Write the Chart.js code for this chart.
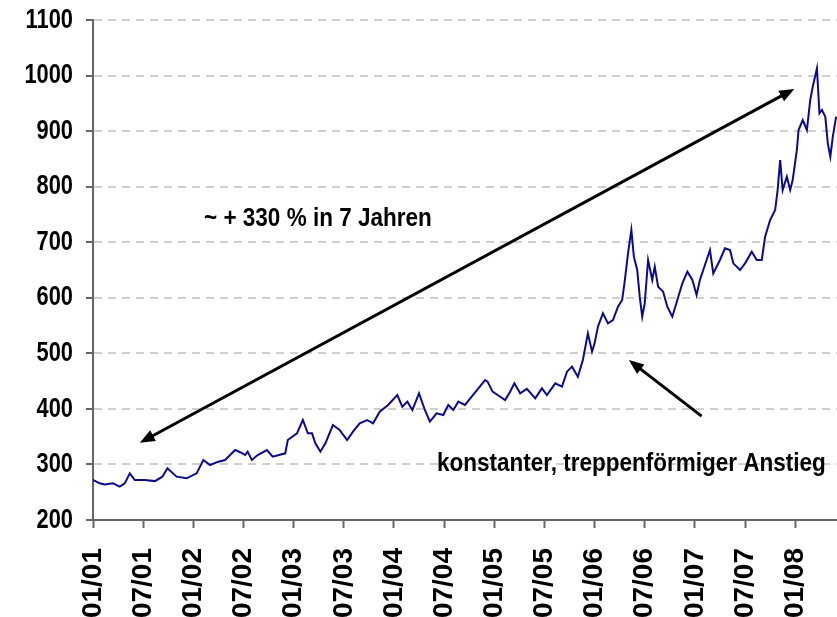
<!DOCTYPE html>
<html lang="de">
<head>
<meta charset="UTF-8">
<title>Goldpreis 2001 - 2008</title>
<script src="https://cdn.jsdelivr.net/npm/chart.js"></script>
<style>
    html, body { margin: 0; padding: 0; background: #fff; }
    #wrap { width: 837px; height: 617px; }
</style>
</head>
<body>
<div id="wrap"><canvas id="goldChart"></canvas></div>
<script>
    // Achsenbeschriftung (alle 6 Monate)
    const tickLabels = ['01/01', '07/01', '01/02', '07/02', '01/03', '07/03', '01/04', '07/04',
        '01/05', '07/05', '01/06', '07/06', '01/07', '07/07', '01/08'];

    // Monate seit Jan 2001 und Kurs (USD/oz)
    const months = [0, 0.8, 1.4, 2.4, 3.2, 3.8, 4.4, 5, 6.2, 7.4,
        8.3, 8.9, 10, 11.2, 12.4, 13.2, 14, 15, 15.8, 17,
        17.6, 18.2, 18.5, 19, 19.7, 20.8, 21.5, 23, 23.3, 24.4,
        25.1, 25.7, 26.2, 26.6, 27.2, 27.8, 28.7, 29.5, 30.4, 31.1,
        31.9, 32.8, 33.5, 34.3, 35.3, 36.4, 37, 37.6, 38.2, 39,
        39.7, 40.3, 41.1, 41.9, 42.5, 43.1, 43.7, 44.5, 45.3, 46.1,
        46.9, 47.2, 47.8, 48.4, 49.3, 49.9, 50.4, 51.1, 51.9, 52.9,
        53.7, 54.3, 55.3, 56.1, 56.7, 57.3, 58, 58.6, 59.2, 59.7,
        60, 60.4, 61, 61.6, 62.2, 62.8, 63.3, 63.6, 64, 64.4,
        64.7, 65.1, 65.4, 65.7, 66, 66.4, 66.9, 67.2, 67.6, 68.2,
        68.7, 69.3, 69.9, 70.5, 71.1, 71.7, 72.2, 72.6, 73.4, 73.8,
        74.2, 75, 75.6, 76.2, 76.6, 77.4, 78, 78.8, 79.4, 80,
        80.4, 81, 81.6, 81.9, 82.2, 82.5, 83, 83.4, 83.7, 84.2,
        84.4, 84.9, 85.4, 85.8, 86.1, 86.6, 86.9, 87.2, 87.6, 87.9,
        88.2, 88.5, 88.9];

    const prices = [272, 266, 264, 266, 260, 266, 284, 272, 272, 270,
        278, 293, 278, 275, 284, 308, 299, 305, 308, 326,
        322, 317, 323, 308, 317, 326, 314, 320, 344, 356,
        380, 356, 356, 338, 323, 338, 371, 362, 344, 359,
        374, 380, 374, 395, 407, 425, 404, 413, 398, 428,
        398, 377, 392, 389, 407, 398, 413, 407, 422, 437,
        452, 449, 431, 425, 416, 431, 446, 428, 436, 419,
        437, 425, 446, 440, 467, 476, 458, 488, 536, 503,
        518, 548, 572, 554, 560, 584, 596, 629, 680, 722,
        674, 650, 602, 566, 590, 668, 632, 656, 620, 611,
        584, 566, 596, 626, 647, 632, 605, 632, 668, 686,
        644, 668, 689, 686, 662, 650, 662, 683, 668, 668,
        710, 740, 758, 794, 848, 794, 818, 794, 812, 866,
        902, 920, 902, 956, 980, 1013, 932, 938, 926, 878,
        854, 890, 926];

    // Pfeile und Texte in Achsenwerten (Monat, Kurs)
    const arrows = [
        { from: [5.6, 339], to: [83.9, 976], both: true },
        { from: [72.8, 387], to: [64.1, 488], both: false }
    ];
    const notes = [
        { text: '~ + 330 % in 7 Jahren', at: [26.9, 742] },
        { text: 'konstanter, treppenförmiger Anstieg', at: [64.4, 301] }
    ];

    const fontFamily = "'Liberation Sans', Arial, sans-serif";

    function drawHead(ctx, x1, y1, x2, y2) {
        const a = Math.atan2(y2 - y1, x2 - x1);
        const len = 15, half = 6;
        ctx.beginPath();
        ctx.moveTo(x2, y2);
        ctx.lineTo(x2 - len * Math.cos(a) + half * Math.sin(a), y2 - len * Math.sin(a) - half * Math.cos(a));
        ctx.lineTo(x2 - len * Math.cos(a) - half * Math.sin(a), y2 - len * Math.sin(a) + half * Math.cos(a));
        ctx.closePath();
        ctx.fill();
    }

    // Y-Beschriftung schmal zeichnen (wie Arial Narrow im Original)
    const narrowY = {
        id: 'narrowY',
        beforeDraw(chart) {
            const s = chart.scales.y;
            if (!s || s._narrow) return;
            const orig = s.drawLabels.bind(s);
            s.drawLabels = function (area) {
                const o = this.options;
                const ax = this.right - (o.grid.drawTicks ? o.grid.tickLength : 0) - o.ticks.padding;
                const ctx = this.ctx;
                ctx.save();
                ctx.translate(ax, 0);
                ctx.scale(0.78, 1);
                ctx.translate(-ax, 0);
                orig(area);
                ctx.restore();
            };
            s._narrow = true;
        }
    };

    const notesPlugin = {
        id: 'notes',
        afterDatasetsDraw(chart) {
            const ctx = chart.ctx;
            const xs = chart.scales.x, ys = chart.scales.y;
            ctx.save();
            ctx.strokeStyle = '#000';
            ctx.fillStyle = '#000';
            ctx.lineWidth = 3;
            arrows.forEach(a => {
                const x1 = xs.getPixelForValue(a.from[0]), y1 = ys.getPixelForValue(a.from[1]);
                const x2 = xs.getPixelForValue(a.to[0]), y2 = ys.getPixelForValue(a.to[1]);
                const ang = Math.atan2(y2 - y1, x2 - x1);
                // Linie etwas kuerzen, damit die Spitze sauber bleibt
                const sx = a.both ? x1 + 10 * Math.cos(ang) : x1, sy = a.both ? y1 + 10 * Math.sin(ang) : y1;
                ctx.beginPath();
                ctx.moveTo(sx, sy);
                ctx.lineTo(x2 - 10 * Math.cos(ang), y2 - 10 * Math.sin(ang));
                ctx.stroke();
                drawHead(ctx, x1, y1, x2, y2);
                if (a.both) drawHead(ctx, x2, y2, x1, y1);
            });
            ctx.font = 'bold 25px ' + fontFamily;
            ctx.textAlign = 'center';
            ctx.textBaseline = 'middle';
            notes.forEach(n => {
                const px = xs.getPixelForValue(n.at[0]), py = ys.getPixelForValue(n.at[1]);
                ctx.save();
                ctx.translate(px, py);
                ctx.scale(0.9, 1);
                ctx.fillText(n.text, 0, 0);
                ctx.restore();
            });
            ctx.restore();
        }
    };

    new Chart(document.getElementById('goldChart'), {
        type: 'line',
        data: {
            datasets: [{
                data: months.map((m, i) => ({ x: m, y: prices[i] })),
                borderColor: '#0b0b8c',
                borderWidth: 2,
                pointRadius: 0,
                tension: 0,
                fill: false
            }]
        },
        options: {
            responsive: true,
            maintainAspectRatio: false,
            animation: false,
            layout: { padding: { top: 20, right: 0, left: 0, bottom: 0 } },
            plugins: {
                legend: { display: false },
                tooltip: { enabled: false }
            },
            scales: {
                x: {
                    type: 'linear',
                    min: 0,
                    max: 89,
                    afterBuildTicks: s => { s.ticks = tickLabels.map((t, i) => ({ value: i * 6 })); },
                    afterFit: s => {
                        s.height = 97;
                        s.paddingLeft = 0;
                        s.paddingRight = 0;
                    },
                    grid: { drawOnChartArea: false, tickLength: 8, tickColor: '#666', tickWidth: 2 },
                    border: { color: '#666', width: 2 },
                    ticks: {
                        autoSkip: false,
                        maxRotation: 90,
                        minRotation: 90,
                        padding: 20,
                        color: '#000',
                        font: { family: fontFamily, weight: 'bold', size: 28 },
                        callback: (v, i) => tickLabels[i]
                    }
                },
                y: {
                    min: 200,
                    max: 1100,
                    afterFit: s => {
                        s.width = 93;
                        s.paddingTop = 0;
                        s.paddingBottom = 0;
                    },
                    grid: {
                        color: c => c.tick && c.tick.value === 200 ? 'rgba(0,0,0,0)' : '#cfcfcf',
                        lineWidth: 2,
                        tickLength: 7,
                        tickColor: '#666',
                        tickWidth: 2
                    },
                    border: { color: '#666', width: 2, dash: [8, 6] },
                    ticks: {
                        stepSize: 100,
                        padding: 13,
                        color: '#000',
                        font: { family: fontFamily, weight: 'bold', size: 28 },
                        callback: v => String(v)
                    }
                }
            }
        },
        plugins: [narrowY, notesPlugin]
    });
</script>
</body>
</html>
